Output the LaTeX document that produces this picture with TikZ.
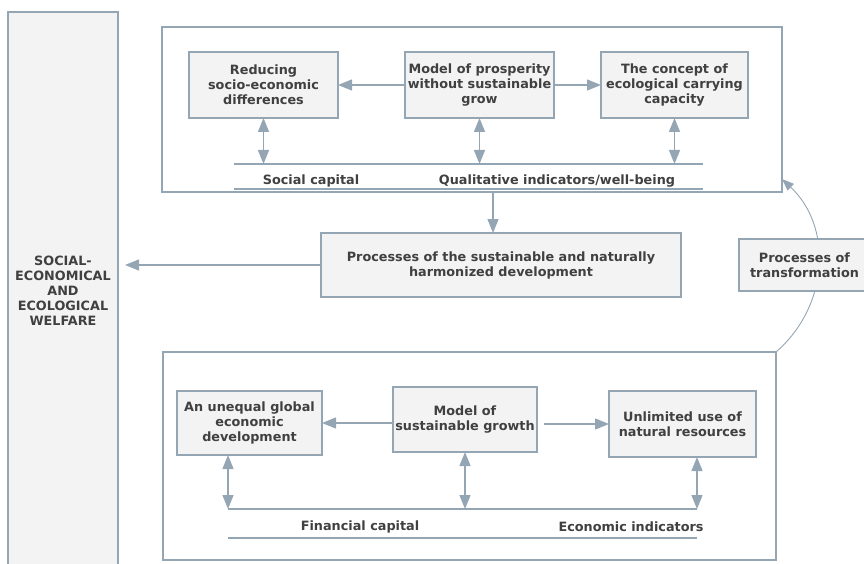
\documentclass[tikz,border=0pt]{standalone}
\usepackage{fontspec}
\setmainfont{DejaVu Sans}
\usetikzlibrary{arrows.meta,backgrounds,calc}
\definecolor{edge}{HTML}{94A5B4}
\definecolor{boxfill}{HTML}{F3F3F3}
\definecolor{txt}{HTML}{404040}
\begin{document}
\begin{tikzpicture}[x=1pt,y=-1pt,
  every node/.style={inner sep=0pt,outer sep=0pt},
  box/.style={draw=edge,fill=boxfill,line width=1.2pt,align=center,text=txt,
    font=\fontsize{12.8}{15}\selectfont\bfseries},
  frame/.style={draw=edge,line width=1.2pt},
  lbl/.style={text=txt,font=\fontsize{12.8}{15}\selectfont\bfseries},
  arr/.style={draw=edge,line width=1.3pt,-{Triangle[length=14pt,width=11pt]}},
  dbl/.style={draw=edge,line width=1.3pt,{Triangle[length=14pt,width=11pt]}-{Triangle[length=14pt,width=11pt]}},
  rule/.style={draw=edge,line width=1.2pt}]
\useasboundingbox (0,0) rectangle (864,564);
% left welfare column
\node[box,minimum width=110pt,minimum height=558pt] (welfare) at (63,291)
  {SOCIAL-\\ECONOMICAL\\AND\\ECOLOGICAL\\WELFARE};
% upper frame
\node[frame,minimum width=620pt,minimum height=165pt] (top) at (472,109.5) {};
\node[box,minimum width=149pt,minimum height=66pt] (reduce) at (263.5,85)
  {Reducing\\socio-economic\\differences};
\node[box,minimum width=149pt,minimum height=66pt] (prosp) at (479.5,85)
  {Model of prosperity\\without sustainable\\grow};
\node[box,minimum width=147pt,minimum height=66pt] (concept) at (674.5,85)
  {The concept of\\ecological carrying\\capacity};
\coordinate (tl1) at (234,164);
\coordinate (tr1) at (703,164);
\coordinate (tl2) at (234,189);
\coordinate (tr2) at (703,189);
\draw[rule] (tl1) -- (tr1);
\draw[rule] (tl2) -- (tr2);
\node[lbl] (social) at (311,181) {Social capital};
\node[lbl] (qual) at (557,181) {Qualitative indicators/well-being};
\draw[arr] (prosp.west) -- (reduce.east);
\draw[arr] (prosp.east) -- (concept.west);
\draw[dbl] (reduce.south) -- (reduce.south |- tl1);
\draw[dbl] (prosp.south) -- (prosp.south |- tl1);
\draw[dbl] (concept.south) -- (concept.south |- tl1);
% middle
\node[box,minimum width=360pt,minimum height=64pt] (proc) at (501,265)
  {Processes of the sustainable and naturally\\harmonized development};
\coordinate (a) at (493,0);
\draw[arr] (top.south -| a) -- (proc.north -| a);
\draw[arr,shorten >=7pt] (proc.west) -- (welfare.east |- proc.west);
% lower frame
\node[frame,minimum width=613pt,minimum height=208pt] (low) at (469.5,456) {};
\node[box,minimum width=145pt,minimum height=64pt] (unequal) at (249.5,423)
  {An unequal global\\economic\\development};
\node[box,minimum width=144pt,minimum height=65pt] (model) at (465,419.5)
  {Model of\\sustainable growth};
\node[box,minimum width=147pt,minimum height=66pt] (unlim) at (682.5,424)
  {Unlimited use of\\natural resources};
\coordinate (bl1) at (228,509);
\coordinate (br1) at (697,509);
\coordinate (bl2) at (228,538);
\coordinate (br2) at (697,538);
\draw[rule] (bl1) -- (br1);
\draw[rule] (bl2) -- (br2);
\node[lbl] (fin) at (360,527) {Financial capital};
\node[lbl] (econ) at (631,527) {Economic indicators};
\draw[arr] (model.west |- unequal.east) -- (unequal.east);
\draw[arr,shorten <=7pt] (model.east |- unlim.west) -- (unlim.west);
\draw[dbl] (unequal.south -| bl1) -- (bl1);
\draw[dbl] (model.south) -- (model.south |- bl1);
\draw[dbl] (unlim.south -| br1) -- (br1);
% transformation
\node[box,minimum width=131pt,minimum height=52pt] (trans) at (804.5,265)
  {Processes of\\transformation};
\coordinate (tin) at (782,179);
\begin{pgfonlayer}{background}
\draw[draw=edge,line width=0.9pt,-{Triangle[length=12pt,width=9pt]}]
  (low.north east) .. controls (829,306) and (833,227) .. (top.east |- tin);
\end{pgfonlayer}
\end{tikzpicture}
\end{document}
